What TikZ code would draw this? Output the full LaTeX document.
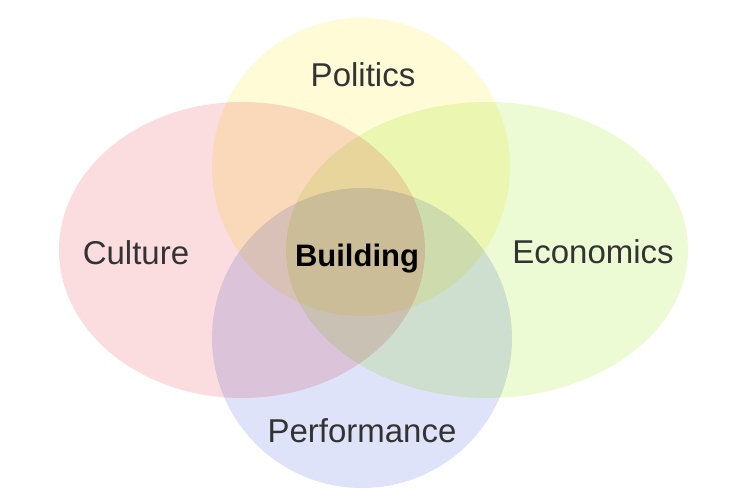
\documentclass[tikz,border=0pt]{standalone}
\usepackage{fontspec}
\setmainfont{Liberation Sans}
\definecolor{culturec}{RGB}{251,221,223}
\definecolor{politicsc}{RGB}{254,251,214}
\definecolor{economicsc}{RGB}{236,251,212}
\definecolor{performancec}{RGB}{223,227,250}
\definecolor{labelc}{RGB}{51,51,51}
\tikzset{
  lbl/.style={anchor=base, inner sep=0pt, text=labelc, font=\fontsize{33}{36}\selectfont},
  center lbl/.style={anchor=base, inner sep=0pt, text=black, font=\fontsize{31}{34}\selectfont\bfseries}
}
\begin{document}
\begin{tikzpicture}[x=1pt,y=-1pt]
\useasboundingbox (0,0) rectangle (750,498);
\fill[white] (0,0) rectangle (750,498);
\begin{scope}[blend group=multiply]
  \fill[culturec] (242,250) ellipse [x radius=183, y radius=148];
  \fill[economicsc] (487,250) ellipse [x radius=201, y radius=148];
  \fill[politicsc] (361,167) circle [radius=149];
  \fill[performancec] (362,338) circle [radius=150];
\end{scope}
\node[lbl] (politics) at (363,86) {Politics};
\node[lbl] (culture) at (136,264) {Culture};
\node[lbl] (economics) at (593,263) {Economics};
\node[lbl] (performance) at (362,442) {Performance};
\node[center lbl] (building) at (357,266) {Building};
\end{tikzpicture}
\end{document}
